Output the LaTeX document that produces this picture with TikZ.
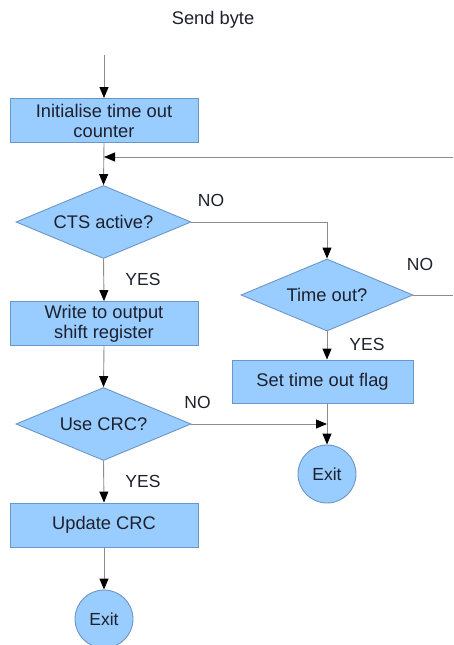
\documentclass[tikz,border=0pt]{standalone}
\usepackage{fontspec}
\setmainfont{Liberation Sans}
\usetikzlibrary{arrows.meta,shapes.geometric}
\definecolor{boxfill}{RGB}{153,204,255}
\definecolor{boxedge}{RGB}{108,150,200}
\definecolor{wire}{RGB}{140,140,140}
\definecolor{ink}{RGB}{30,32,45}
\begin{document}
\begin{tikzpicture}[x=1pt,y=-1pt,
  every node/.style={font=\fontsize{17.5}{20}\selectfont, text=ink},
  boxtext/.style={font=\fontsize{18.3}{20}\selectfont},
  process/.style={boxtext, draw=boxedge, fill=boxfill, line width=0.9pt, rectangle,
    minimum width=188pt, minimum height=44pt, inner sep=0pt, align=center},
  decision/.style={boxtext, draw=boxedge, fill=boxfill, line width=0.9pt, diamond,
    aspect=2.4, inner sep=0pt, minimum width=175pt, minimum height=73pt},
  terminal/.style={draw=boxedge, fill=boxfill, line width=0.9pt, circle,
    minimum size=58pt, inner sep=0pt},
  flow/.style={draw=wire, line width=0.9pt,
    -{Triangle[length=11pt,width=9pt,color=black]}},
  plain/.style={draw=wire, line width=0.9pt},
  tag/.style={text=ink}]
  \useasboundingbox (0,0) rectangle (453,645);

  % title and entry point
  \node[boxtext] (title) at (213,20) {Send byte};
  \coordinate (entry) at (104,55);

  % main column
  \node[process] (init) at (104,120.5) {Initialise time out\\counter};
  \node[decision] (cts) at (103.5,222) {CTS active?};
  \node[process] (write) at (104,323.5) {Write to output\\shift register};
  \node[decision] (crc) at (103.5,424) {Use CRC?};
  \node[process] (upd) at (104,525) {Update CRC};
  \node[terminal] (exitA) at (104,619) {Exit};

  % time-out branch
  \node[decision, minimum width=172pt, minimum height=72pt] (tout) at (327,295) {Time out?};
  \node[process, minimum width=181pt, minimum height=43pt] (flag) at (322.5,381.5) {Set time out flag};
  \node[terminal] (exitB) at (327,474) {Exit};

  % junction points
  \coordinate (loopIn) at (453,157);
  \coordinate (merge) at (104,157);
  \coordinate (loopOut) at (453,295);
  \coordinate (join) at (327,424);

  % connectors
  \draw[flow] (entry) -- (init.north);
  \draw[flow] (init.south) -- (cts.north);
  \draw[flow] (loopIn) -- (merge);
  \draw[flow] (cts.south) -- (write.north);
  \draw[flow] (write.south) -- (crc.north);
  \draw[flow] (crc.south) -- (upd.north);
  \draw[flow] (upd.south) -- (exitA.north);
  \draw[flow] (cts.east) -| (tout.north);
  \draw[plain] (tout.east) -- (loopOut);
  \draw[flow] (tout.south) -- (tout.south |- flag.north);
  \draw[flow] (tout.south |- flag.south) -- (exitB.north);
  \draw[flow] (crc.east) -- (join);

  % branch labels
  \node[tag] (noA) at (211,200) {NO};
  \node[tag] (yesA) at (143,279) {YES};
  \node[tag] (noB) at (420,264) {NO};
  \node[tag] (yesB) at (367,344) {YES};
  \node[tag] (noC) at (197.5,402) {NO};
  \node[tag] (yesC) at (143,481) {YES};
\end{tikzpicture}
\end{document}
